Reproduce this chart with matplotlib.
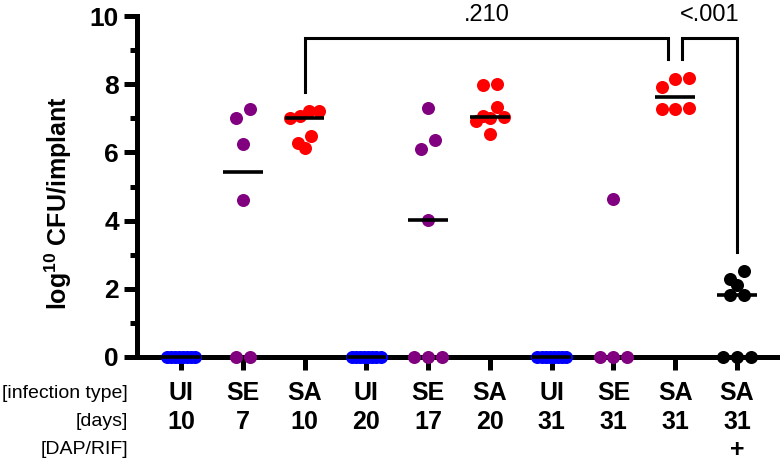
import numpy as np
import matplotlib
matplotlib.use("Agg")
import matplotlib.pyplot as plt
from matplotlib.transforms import blended_transform_factory

plt.rcParams['font.family'] = ['Liberation Sans', 'DejaVu Sans']
plt.rcParams['mathtext.fontset'] = 'custom'
plt.rcParams['mathtext.rm'] = 'Liberation Sans'
plt.rcParams['mathtext.bf'] = 'Liberation Sans:bold'

# groups (left to right)
infection = ["UI", "SE", "SA", "UI", "SE", "SA", "UI", "SE", "SA", "SA"]
days = ["10", "7", "10", "20", "17", "20", "31", "31", "31", "31"]
dap_rif = ["", "", "", "", "", "", "", "", "", "+"]
colors = ["#0000ff", "#800080", "#ff0000", "#0000ff", "#800080",
          "#ff0000", "#0000ff", "#800080", "#ff0000", "#000000"]

# log10 CFU/implant per animal
ui_10 = [0, 0, 0, 0, 0, 0, 0, 0]
se_7 = [7.02, 7.26, 6.26, 4.59, 0, 0]
sa_10 = [7.21, 7.02, 7.21, 7.07, 6.48, 6.28, 6.12]
ui_20 = [0, 0, 0, 0, 0, 0, 0, 0]
se_17 = [7.31, 6.35, 6.09, 4.03, 0, 0, 0]
sa_20 = [8.0, 7.97, 7.34, 7.02, 7.04, 6.92, 7.06, 6.53]
ui_31 = [0, 0, 0, 0, 0, 0, 0, 0]
se_31 = [4.62, 0, 0, 0]
sa_31 = [8.15, 7.93, 8.18, 7.26, 7.31, 7.26]
sa_31_dr = [2.51, 2.28, 2.12, 1.82, 1.82, 0, 0, 0]
groups = [ui_10, se_7, sa_10, ui_20, se_17, sa_20, ui_31, se_31, sa_31, sa_31_dr]

# comparisons: (group a, group b, p label)
comparisons = [(2, 8, ".210"), (8, 9, "<.001")]

W, H = 780, 466
fig = plt.figure(figsize=(W / 100, H / 100), dpi=100)
ax = fig.add_axes([137 / W, (H - 357) / H, 641 / W, 341 / H])

x = np.arange(len(groups))
ax.set_xlim(-0.712, 9.663)
ax.set_ylim(0, 10)

# marker size in data units, for spreading points sideways
diam_px = 13
dx = diam_px / (ax.bbox.width / (9.663 + 0.712))
dy = diam_px / (ax.bbox.height / 10)
half_max = 0.23


def spread(vals):
    vals = np.asarray(vals, float)
    order = np.argsort(-vals, kind="stable")
    rows = []
    for i in order:
        if rows and vals[rows[-1][0]] - vals[i] < 0.75 * dy:
            rows[-1].append(i)
        else:
            rows.append([i])
    off = np.zeros(len(vals))
    for r in rows:
        n = len(r)
        if n < 2:
            continue
        r = sorted(r, key=lambda i: vals[i])
        step = min(1.05 * dx, 2 * half_max / (n - 1))
        for k, i in enumerate(r):
            off[i] = (k - (n - 1) / 2) * step
    return off


for xi, vals, c in zip(x, groups, colors):
    off = spread(vals)
    ax.scatter(xi + off, vals, s=88, color=c, linewidths=0, zorder=3, clip_on=False)
    med = np.median(vals)
    if med > 0 or max(vals) == 0:
        ax.plot([xi - 0.32, xi + 0.32], [med, med], color="black", lw=2.6,
                zorder=4, clip_on=False, solid_capstyle="butt")

# significance brackets
top = 9.35
for a, b, lab in comparisons:
    xa = x[a] + (0.11 if a == 8 else 0)
    xb = x[b] - (0.11 if b == 8 else 0)
    ya = max(groups[a]) + 0.56
    yb = max(groups[b]) + 0.56
    ax.plot([xa, xa, xb, xb], [ya, top, top, yb], color="black", lw=2.2,
            clip_on=False, solid_joinstyle="miter", zorder=5)
    ax.text((xa + xb) / 2, 9.84, lab, ha="center", va="baseline", fontsize=17)

for s in ["top", "right"]:
    ax.spines[s].set_visible(False)
for s in ["left", "bottom"]:
    ax.spines[s].set_linewidth(3.6)
    ax.spines[s].set_zorder(2)

ax.set_yticks(np.arange(0, 11, 2))
ax.set_yticks(np.arange(1, 10, 2), minor=True)
ax.tick_params(axis="y", which="major", length=9.5, width=3.6, pad=3.5, labelsize=19)
ax.tick_params(axis="y", which="minor", length=5, width=3.6)
for t in ax.get_yticklabels():
    t.set_fontweight("bold")
ax.set_xticks(x)
ax.set_xticklabels([])
ax.tick_params(axis="x", length=9, width=3.6)

# category rows under the axis
tr = blended_transform_factory(ax.transData, fig.transFigure)
rows = [("[infection type]", infection, 393), ("[days]", days, 422), ("[DAP/RIF]", dap_rif, 450)]
for name, labels, ypx in rows:
    fig.text(128 / W, 1 - ypx / H, name, ha="right", va="center", fontsize=14)
    for xi, lab in zip(x, labels):
        ax.text(xi, 1 - ypx / H, lab, transform=tr, ha="center", va="center",
                fontsize=18, fontweight="bold")

fig.text(58 / W, 1 - 203 / H, r"log$^{\mathbf{10}}$ CFU/implant", rotation=90,
         ha="center", va="center", fontsize=18, fontweight="bold")

fig.savefig("out.png", dpi=100)
